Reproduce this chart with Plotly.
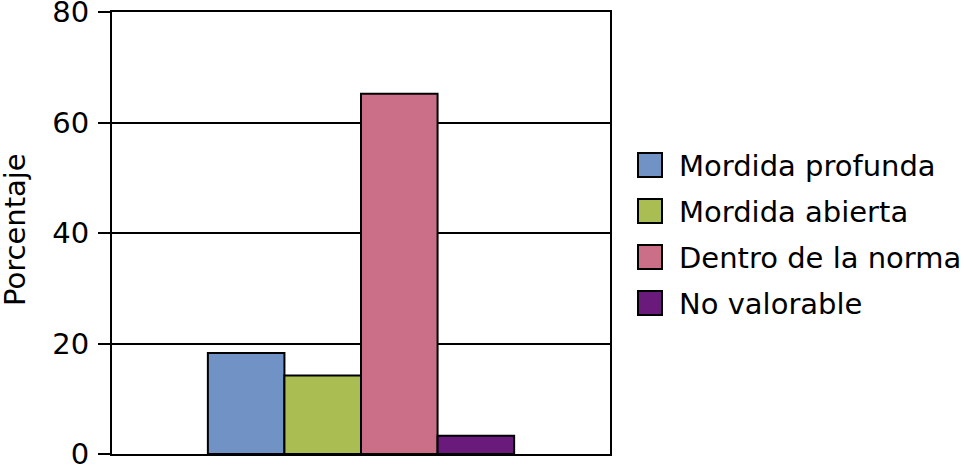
import plotly.graph_objects as go

# Data
categories = ["Mordida profunda", "Mordida abierta", "Dentro de la norma", "No valorable"]
values = [18.3, 14.2, 65.2, 3.3]
colors = ["#7092C5", "#A9BD52", "#CB6E88", "#6A1A7A"]
y_ticks = [0, 20, 40, 60, 80]

W, H = 964, 467
L, R, T, B = 112, 354, 12, 13
FONT = dict(family="DejaVu Sans, sans-serif", size=29, color="black")

fig = go.Figure()
for name, val, col in zip(categories, values, colors):
    fig.add_trace(go.Bar(
        x=[""], y=[val], name=name,
        marker=dict(color=col, line=dict(color="black", width=2)),
        showlegend=False,
    ))

# helpers: pixel -> paper coordinates
def px_x(x):
    return (x - L) / (W - L - R)

def px_y(y):
    return (H - B - y) / (H - T - B)

# Custom legend (large swatches like the original)
for i, (name, col) in enumerate(zip(categories, colors)):
    cy = 165 + i * 46
    fig.add_shape(type="rect", xref="paper", yref="paper",
                  x0=px_x(638), x1=px_x(662), y0=px_y(cy + 12), y1=px_y(cy - 12),
                  fillcolor=col, line=dict(color="black", width=2))
    fig.add_annotation(text=name, xref="paper", yref="paper",
                       x=px_x(677), y=px_y(cy + 1), xanchor="left", yanchor="middle",
                       showarrow=False, font=FONT)

# y axis title
fig.add_annotation(text="Porcentaje", xref="paper", yref="paper", textangle=-90,
                   x=px_x(15), y=px_y(230), xanchor="center", yanchor="middle",
                   showarrow=False, font=FONT)

fig.update_layout(
    width=W, height=H,
    margin=dict(l=L, r=R, t=T, b=B, autoexpand=False),
    barmode="group", bargap=0.385, bargroupgap=0,
    plot_bgcolor="white", paper_bgcolor="white",
    font=FONT,
    showlegend=False,
)
fig.update_xaxes(showticklabels=False, ticks="", showgrid=False, automargin=False,
                 showline=True, mirror=True, linecolor="black", linewidth=2)
fig.update_yaxes(range=[0, 80], tickvals=y_ticks, showgrid=True, gridcolor="black", gridwidth=2,
                 zeroline=False, ticks="outside", ticklen=12, tickwidth=2, tickcolor="black",
                 showline=True, mirror=True, linecolor="black", linewidth=2,
                 ticklabelstandoff=3, ticklabeloverflow="allow", automargin=False)

fig.write_html("out.html", config={"displayModeBar": False},
               post_script="document.body.style.margin='0';")
